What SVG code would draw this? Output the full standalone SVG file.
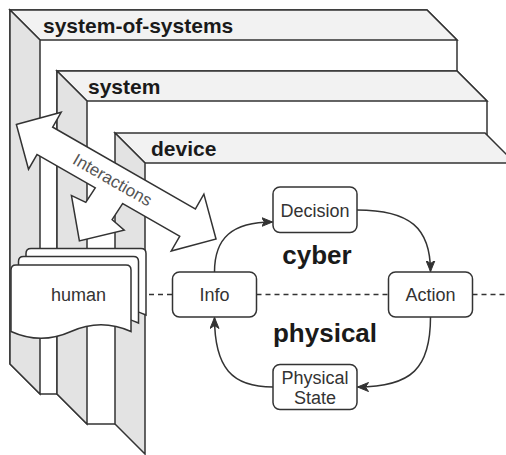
<svg xmlns="http://www.w3.org/2000/svg" width="506" height="455" viewBox="0 0 506 455">
<defs>
<style>
.front{fill:#fff;stroke:#333;stroke-width:1.5;stroke-linejoin:miter}
.nofill{fill:#fff;stroke:none}
.top{fill:#f2f2f2;stroke:#333;stroke-width:1.5}
.side{fill:#e3e3e3;stroke:#333;stroke-width:1.5}
.lbl{font-family:"Liberation Sans",Arial,Helvetica,sans-serif;font-weight:bold;font-size:21px;fill:#1a1a1a}
.node rect{fill:#fff;stroke:#333;stroke-width:1.5}
.t{font-family:"Liberation Sans",Arial,Helvetica,sans-serif;font-size:18px;fill:#333;text-anchor:middle}
.big{font-family:"Liberation Sans",Arial,Helvetica,sans-serif;font-size:26px;font-weight:bold;fill:#1a1a1a;text-anchor:middle}
.doc{fill:#fff;stroke:#333;stroke-width:1.5}
.aout{fill:#fff;stroke:#333;stroke-width:3;stroke-linejoin:miter}
.ain{fill:#fff;stroke:none}
.dash{fill:none;stroke:#333;stroke-width:1.5;stroke-dasharray:5 4}
.conn{fill:none;stroke:#333;stroke-width:1.5;marker-end:url(#ah)}
.it{font-family:"Liberation Sans",Arial,Helvetica,sans-serif;font-size:17px;fill:#555;text-anchor:middle}
</style>
<marker id="ah" markerUnits="userSpaceOnUse" markerWidth="12" markerHeight="10" refX="11" refY="5" orient="auto">
<path d="M0,0.5 L11,5 L0,9.5 L3,5 Z" fill="#333" stroke="#333" stroke-width="1"/>
</marker>
<path id="arrowMain" d="M0,0 L31,-31 L31,-15 L197,-15 L197,-31 L228,0 L197,31 L197,15 L31,15 L31,31 Z"/>
<path id="arrowHuman" d="M0,0 L32,-30 L34,-15 L75,-15 L75,15 L34,15 L32,30 Z"/>
</defs>

<g id="system-of-systems">
<path class="front" d="M10,10 L427,10 L457,40 L457,394 L40,394 L10,364 Z"/>
<path class="top" d="M10,10 L427,10 L457,40 L40,40 Z"/>
<path class="side" d="M10,10 L40,40 L40,394 L10,364 Z"/>
<text class="lbl" x="43" y="32.5">system-of-systems</text>
</g>

<g id="system">
<path class="front" d="M57,71 L457,71 L487,101 L487,424 L87,424 L57,394 Z"/>
<path class="top" d="M57,71 L457,71 L487,101 L87,101 Z"/>
<path class="side" d="M57,71 L87,101 L87,424 L57,394 Z"/>
<text class="lbl" x="88" y="94">system</text>
</g>

<g id="device">
<path class="nofill" d="M115,133 L485,133 L515,163 L515,455 L145,455 L115,424 Z"/>
<path class="top" d="M115,133 L485,133 L515,163 L145,163 Z"/>
<path class="side" d="M115,133 L145,163 L145,454 L115,424 Z"/>
<text class="lbl" x="151" y="156">device</text>
</g>

<g id="human">
<path class="doc" d="M26,253.5 Q26,248.5 31,248.5 L141,248.5 Q146,248.5 146,253.5 L146,315 Q116,301.5 86,315 Q56,328.5 26,315 Z"/>
<path class="doc" d="M18.5,261.5 Q18.5,256.5 23.5,256.5 L133.5,256.5 Q138.5,256.5 138.5,261.5 L138.5,323 Q108.5,309.5 78.5,323 Q48.5,336.5 18.5,323 Z"/>
<path class="doc" d="M11,270 Q11,265 16,265 L126,265 Q131,265 131,270 L131,331.5 Q101,318 71,331.5 Q41,345 11,331.5 Z"/>
<text class="t" x="78.5" y="300.5">human</text>
</g>

<g id="interactions">
<use href="#arrowMain" class="aout" transform="translate(17.3,125) rotate(29.82)"/>
<use href="#arrowHuman" class="aout" transform="translate(80,240) rotate(-56.8)"/>
<use href="#arrowMain" class="ain" transform="translate(17.3,125) rotate(29.82)"/>
<use href="#arrowHuman" class="ain" transform="translate(80,240) rotate(-56.8)"/>
<text class="it" transform="translate(112.7,179.7) rotate(29.82)" x="0" y="6">Interactions</text>
</g>

<g id="connectors">
<path class="dash" d="M149,294.5 H172.5"/>
<path class="dash" d="M256.5,294.5 H388.5"/>
<path class="dash" d="M472.5,294.5 H506"/>
<path class="conn" d="M214.5,272 C214.5,238 232,222 272.5,222"/>
<path class="conn" d="M357,210 C410,210 430.5,228 430.5,271.5"/>
<path class="conn" d="M430.5,317 C430.5,368 412,387 357.5,387"/>
<path class="conn" d="M273,387 C232,387 214.5,368 214.5,317.5"/>
</g>

<g id="decision" class="node">
<rect x="273" y="187" width="84" height="45.5" rx="7"/>
<text class="t" x="315" y="216.5">Decision</text>
</g>
<g id="info" class="node">
<rect x="172.5" y="272" width="84" height="45" rx="7"/>
<text class="t" x="214.5" y="301">Info</text>
</g>
<g id="action" class="node">
<rect x="388.5" y="272" width="84" height="45" rx="7"/>
<text class="t" x="430.5" y="301">Action</text>
</g>
<g id="physical-state" class="node">
<rect x="273" y="364.5" width="84" height="45" rx="7"/>
<text class="t" x="315" y="383.5">Physical</text>
<text class="t" x="315" y="404">State</text>
</g>

<g id="labels">
<text class="big" x="317" y="264">cyber</text>
<text class="big" x="325" y="342">physical</text>
</g>
</svg>
